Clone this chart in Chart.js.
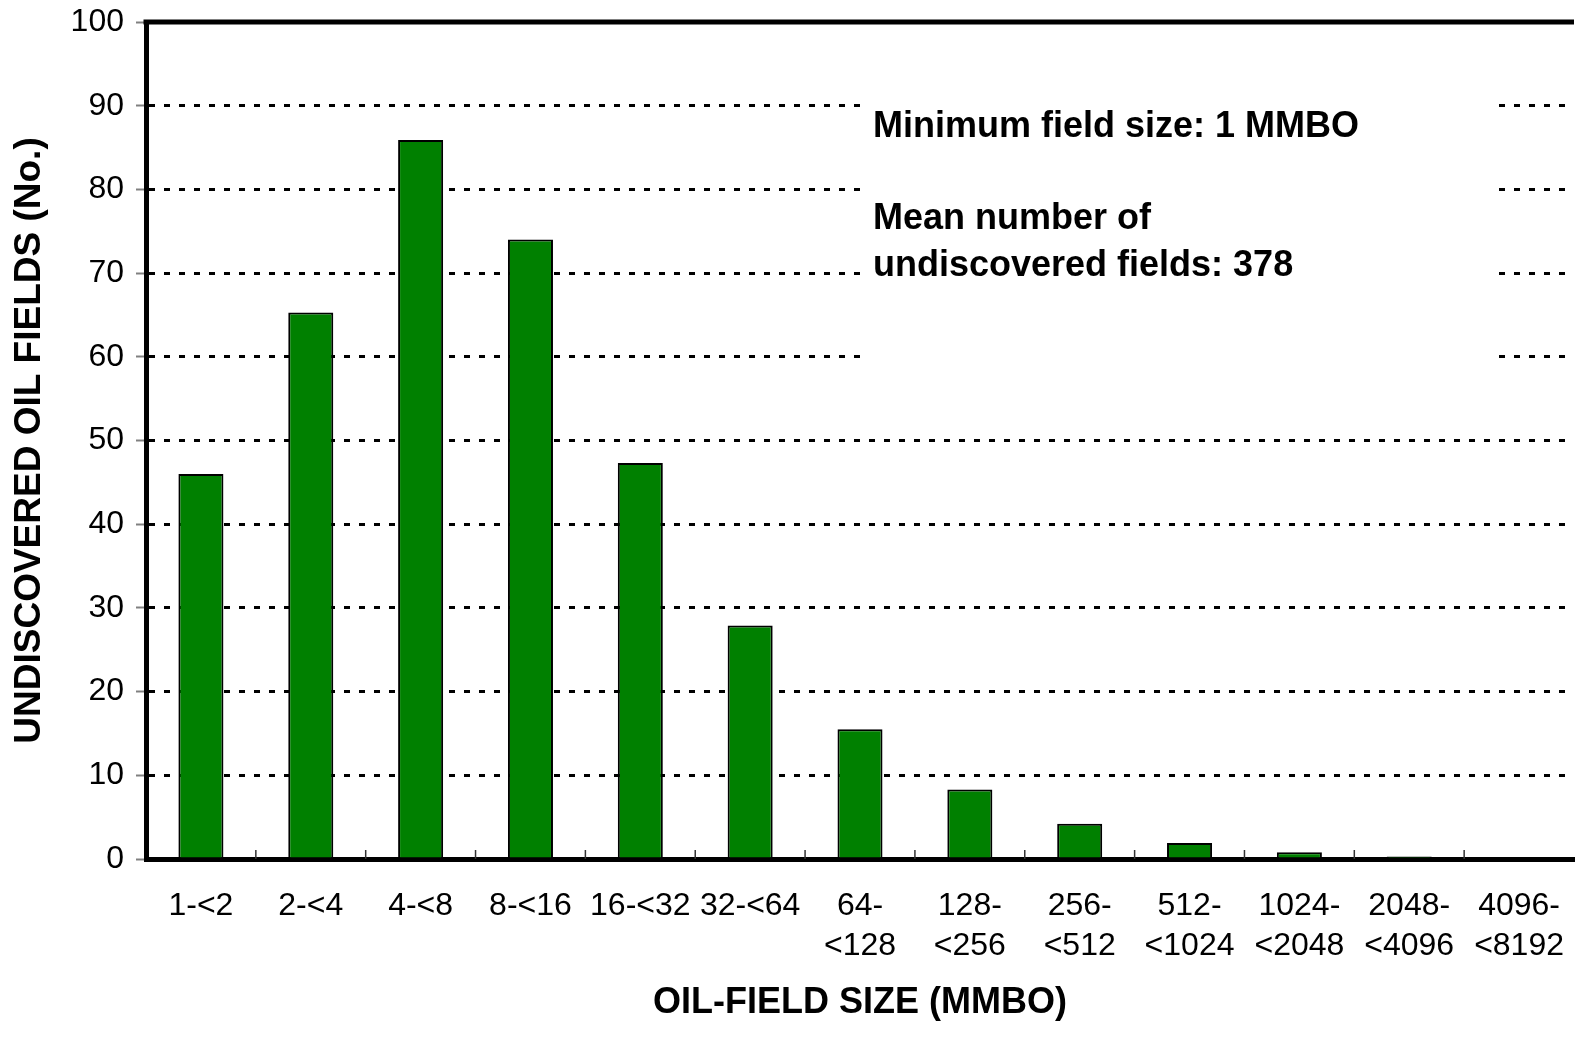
<!DOCTYPE html>
<html>
<head>
<meta charset="utf-8">
<script src="https://cdn.jsdelivr.net/npm/chart.js@4"></script>
<style>
  html, body { margin: 0; padding: 0; background: #ffffff; }
  #wrap { width: 1590px; height: 1040px; }
</style>
</head>
<body>
<div id="wrap"><canvas id="c" width="1590" height="1040"></canvas></div>
<script>
const categories = [
  ["1-<2"], ["2-<4"], ["4-<8"], ["8-<16"], ["16-<32"], ["32-<64"],
  ["64-", "<128"], ["128-", "<256"], ["256-", "<512"], ["512-", "<1024"],
  ["1024-", "<2048"], ["2048-", "<4096"], ["4096-", "<8192"]
];
const fieldCounts = [46.0, 65.3, 85.9, 74.0, 47.3, 27.9, 15.5, 8.3, 4.2, 1.9, 0.8, 0.3, 0.0];
const yTicks = [0, 10, 20, 30, 40, 50, 60, 70, 80, 90, 100];
const annotationLines = [
  "Minimum field size: 1 MMBO",
  "",
  "Mean number of",
  "undiscovered fields: 378"
];
const xTitle = "OIL-FIELD SIZE (MMBO)";
const yTitle = "UNDISCOVERED OIL FIELDS (No.)";

const FONT = "'Liberation Sans', Arial, Helvetica, sans-serif";

const annotationPlugin = {
  id: 'annot',
  beforeDatasetsDraw(chart) {
    const ctx = chart.ctx;
    ctx.save();
    ctx.fillStyle = '#ffffff';
    ctx.fillRect(865, 92, 625, 275);
    ctx.fillStyle = '#000000';
    ctx.font = "bold 36px " + FONT;
    ctx.textBaseline = 'alphabetic';
    ctx.textAlign = 'left';
    const baselines = [137, 183, 229, 276];
    annotationLines.forEach((t, i) => { if (t) ctx.fillText(t, 873, baselines[i]); });
    ctx.restore();
  },
  afterDraw(chart) {
    const ctx = chart.ctx;
    const a = chart.chartArea;
    const xs = chart.scales.x;
    ctx.save();
    ctx.strokeStyle = '#000000';
    ctx.lineWidth = 5;
    ctx.beginPath();
    ctx.moveTo(a.left - 2.5, a.top);
    ctx.lineTo(a.right, a.top);
    ctx.stroke();
    ctx.lineWidth = 1.5;
    ctx.strokeStyle = '#333333';
    for (let i = 0; i < categories.length - 1; i++) {
      const px = (xs.getPixelForValue(i) + xs.getPixelForValue(i + 1)) / 2;
      ctx.beginPath();
      ctx.moveTo(px, a.bottom);
      ctx.lineTo(px, a.bottom - 9);
      ctx.stroke();
    }
    ctx.restore();
  }
};

const bgPlugin = {
  id: 'bg',
  beforeDraw(chart) {
    const ctx = chart.ctx;
    ctx.save();
    ctx.fillStyle = '#ffffff';
    ctx.fillRect(0, 0, chart.width, chart.height);
    ctx.restore();
  }
};

new Chart(document.getElementById('c'), {
  type: 'bar',
  data: {
    labels: categories,
    datasets: [{
      data: fieldCounts,
      backgroundColor: '#008000',
      borderColor: '#000000',
      borderWidth: 2,
      barPercentage: 0.41,
      categoryPercentage: 1.0
    }]
  },
  options: {
    responsive: false,
    animation: false,
    devicePixelRatio: 1,
    layout: { padding: { top: 22, right: 16, bottom: 0, left: 0 } },
    plugins: {
      legend: { display: false },
      tooltip: { enabled: false }
    },
    scales: {
      x: {
        afterFit(scale) { scale.height = 181; scale.paddingLeft = 0; scale.paddingRight = 0; },
        grid: { display: false, drawTicks: false },
        border: { display: true, color: '#000000', width: 5 },
        ticks: {
          color: '#000000',
          font: { family: FONT, size: 32, lineHeight: 1.25 },
          padding: 27,
          maxRotation: 0,
          autoSkip: false
        },
        title: {
          display: true,
          text: xTitle,
          color: '#000000',
          font: { family: FONT, size: 36, weight: 'bold' },
          padding: { top: 0, bottom: 15 }
        }
      },
      y: {
        min: 0,
        max: 100,
        afterFit(scale) { scale.width = 146; scale.paddingTop = 0; scale.paddingBottom = 0; },
        afterBuildTicks(scale) { scale.ticks = yTicks.map(v => ({ value: v })); },
        grid: {
          color: '#000000',
          lineWidth: 3,
          drawTicks: true,
          tickLength: 10,
          tickColor: '#808080',
          tickWidth: 2,
          tickBorderDash: []
        },
        border: { display: true, color: '#000000', width: 5, dash: [6, 9], dashOffset: 0 },
        ticks: {
          color: '#000000',
          font: { family: FONT, size: 32 },
          padding: 12
        },
        title: {
          display: true,
          text: yTitle,
          color: '#000000',
          font: { family: FONT, size: 37, weight: 'bold' },
          padding: { top: 8, bottom: 0 }
        }
      }
    }
  },
  plugins: [bgPlugin, annotationPlugin]
});
</script>
</body>
</html>
